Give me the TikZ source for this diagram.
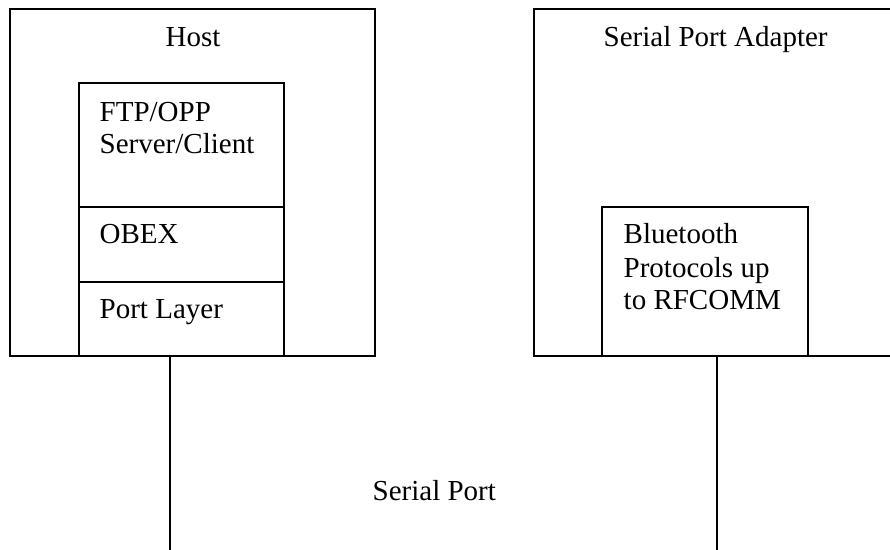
\documentclass[tikz,border=0pt]{standalone}
\usepackage{fontspec}
\setmainfont{Liberation Serif}
\tikzset{every picture/.style={line width=1.4pt}}
\tikzset{layerbox/.style={draw, rectangle, inner sep=0pt}}
\tikzset{txt/.style={anchor=base west, inner sep=0pt, font=\fontsize{29}{33}\selectfont}}

\begin{document}
\begin{tikzpicture}[x=1pt,y=1pt,yscale=-1,xscale=1]
\useasboundingbox (0,0) rectangle (890,549);

%Shape: Rectangle [host]
\node [layerbox, minimum width=365, minimum height=347] (host) at (192.5,182.5) {};
%Shape: Rectangle [app layer]
\node [layerbox, minimum width=205, minimum height=124] (app) at (181.5,145) {};
%Shape: Rectangle [obex layer]
\node [layerbox, minimum width=205, minimum height=75] (obex) at (181.5,244.5) {};
%Shape: Rectangle [port layer]
\node [layerbox, minimum width=205, minimum height=74] (port) at (181.5,319) {};

%Shape: Rectangle [adapter]
\node [layerbox, minimum width=358, minimum height=347] (adapter) at (713,182.5) {};
%Shape: Rectangle [bluetooth stack]
\node [layerbox, minimum width=206, minimum height=149] (bt) at (705,281.5) {};

%Straight Lines [serial wires]
\coordinate (hostend) at (170,552);
\coordinate (adapterend) at (717,552);
\draw (port.south -| hostend) -- (hostend) ;
\draw (bt.south -| adapterend) -- (adapterend) ;

% Text Node
\node [txt, anchor=base] (hostlabel) at (193,46) {Host};
% Text Node
\node [txt] (applabel) at (99,121) {FTP/OPP};
% Text Node
\node [txt] (applabelb) at (99,153) {Server/Client};
% Text Node
\node [txt] (obexlabel) at (99,243) {OBEX};
% Text Node
\node [txt] (portlabel) at (99,318) {Port Layer};
% Text Node
\node [txt] (adapterlabel) at (603,46) {Serial Port Adapter};
% Text Node
\node [txt] (btlabel) at (623,243) {Bluetooth};
% Text Node
\node [txt] (btlabelb) at (623,277) {Protocols up};
% Text Node
\node [txt] (btlabelc) at (623,309) {to RFCOMM};
% Text Node
\node [txt] (seriallabel) at (372,500) {Serial Port};

\end{tikzpicture}
\end{document}
